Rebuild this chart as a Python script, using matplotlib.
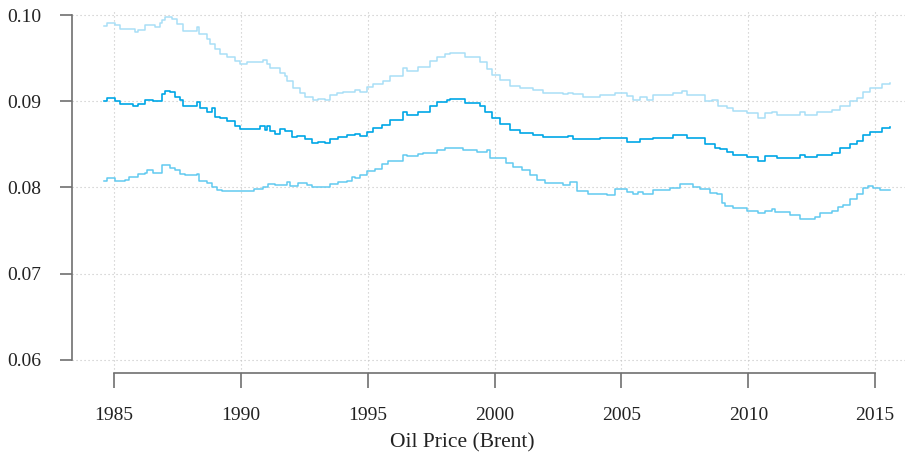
import matplotlib
matplotlib.use("Agg")
import matplotlib.pyplot as plt

# Posterior band (upper / median / lower) over time, piecewise constant
upper_years = [1984.60, 1984.72, 1985.04, 1985.24, 1985.83, 1985.95, 1986.22, 1986.62,
               1986.81, 1986.89, 1987.01, 1987.29, 1987.48, 1987.72, 1988.27, 1988.35,
               1988.67, 1988.78, 1988.98, 1989.18, 1989.45, 1989.77, 1989.97, 1990.24,
               1990.87, 1991.03, 1991.15, 1991.54, 1991.74, 1991.82, 1992.06, 1992.33,
               1992.53, 1992.84, 1993.04, 1993.32, 1993.51, 1993.79, 1994.03, 1994.50,
               1994.70, 1994.97, 1995.21, 1995.60, 1995.88, 1996.39, 1996.55, 1996.98,
               1997.46, 1997.73, 1998.05, 1998.24, 1998.84, 1999.43, 1999.70, 1999.90,
               2000.21, 2000.61, 2001.00, 2001.52, 2001.91, 2002.70, 2002.90, 2003.09,
               2003.49, 2004.16, 2004.75, 2005.22, 2005.46, 2005.73, 2006.01, 2006.25,
               2007.03, 2007.39, 2007.59, 2008.30, 2008.57, 2008.81, 2009.16, 2009.40,
               2009.95, 2010.38, 2010.66, 2010.94, 2011.13, 2012.04, 2012.24, 2012.71,
               2013.30, 2013.62, 2014.01, 2014.29, 2014.52, 2014.80, 2015.27, 2015.59]
upper_vals = [0.0987, 0.0991, 0.0988, 0.0984, 0.0980, 0.0983, 0.0988, 0.0986,
              0.0991, 0.0994, 0.0998, 0.0995, 0.0990, 0.0982, 0.0986, 0.0978,
              0.0972, 0.0966, 0.0960, 0.0955, 0.0951, 0.0947, 0.0943, 0.0946,
              0.0948, 0.0943, 0.0939, 0.0933, 0.0929, 0.0923, 0.0915, 0.0910,
              0.0905, 0.0902, 0.0903, 0.0902, 0.0907, 0.0909, 0.0911, 0.0913,
              0.0911, 0.0916, 0.0920, 0.0924, 0.0929, 0.0939, 0.0935, 0.0940,
              0.0947, 0.0951, 0.0955, 0.0956, 0.0951, 0.0945, 0.0937, 0.0931,
              0.0925, 0.0918, 0.0915, 0.0913, 0.0910, 0.0908, 0.0910, 0.0908,
              0.0905, 0.0907, 0.0909, 0.0906, 0.0902, 0.0905, 0.0902, 0.0907,
              0.0910, 0.0912, 0.0907, 0.0900, 0.0902, 0.0895, 0.0892, 0.0889,
              0.0886, 0.0881, 0.0886, 0.0887, 0.0884, 0.0888, 0.0884, 0.0888,
              0.0890, 0.0895, 0.0900, 0.0904, 0.0911, 0.0915, 0.0920, 0.0921]

middle_years = [1984.60, 1984.72, 1985.04, 1985.24, 1985.75, 1985.95, 1986.22, 1986.54,
                1986.89, 1987.01, 1987.21, 1987.40, 1987.60, 1987.72, 1988.27, 1988.39,
                1988.67, 1988.86, 1988.98, 1989.18, 1989.45, 1989.77, 1989.97, 1990.75,
                1990.95, 1991.03, 1991.15, 1991.35, 1991.54, 1991.74, 1992.02, 1992.21,
                1992.53, 1992.80, 1993.04, 1993.32, 1993.51, 1993.83, 1994.18, 1994.50,
                1994.70, 1994.97, 1995.21, 1995.56, 1995.88, 1996.39, 1996.55, 1996.98,
                1997.46, 1997.73, 1998.13, 1998.24, 1998.84, 1999.43, 1999.62, 1999.90,
                2000.21, 2000.61, 2001.00, 2001.52, 2001.91, 2002.90, 2003.09, 2004.16,
                2005.22, 2005.73, 2006.25, 2007.03, 2007.59, 2008.30, 2008.49, 2008.69,
                2008.89, 2009.16, 2009.40, 2009.95, 2010.38, 2010.66, 2011.13, 2012.04,
                2012.24, 2012.71, 2013.30, 2013.62, 2014.01, 2014.29, 2014.52, 2014.80,
                2015.27, 2015.59]
middle_vals = [0.0900, 0.0904, 0.0900, 0.0897, 0.0894, 0.0897, 0.0902, 0.0900,
               0.0908, 0.0912, 0.0911, 0.0905, 0.0902, 0.0895, 0.0899, 0.0892,
               0.0888, 0.0892, 0.0882, 0.0880, 0.0877, 0.0871, 0.0868, 0.0871,
               0.0867, 0.0871, 0.0866, 0.0862, 0.0868, 0.0865, 0.0858, 0.0860,
               0.0856, 0.0852, 0.0853, 0.0852, 0.0856, 0.0858, 0.0861, 0.0862,
               0.0860, 0.0864, 0.0869, 0.0873, 0.0878, 0.0887, 0.0884, 0.0888,
               0.0895, 0.0899, 0.0902, 0.0903, 0.0898, 0.0894, 0.0888, 0.0881,
               0.0874, 0.0867, 0.0863, 0.0861, 0.0858, 0.0860, 0.0856, 0.0857,
               0.0853, 0.0856, 0.0857, 0.0861, 0.0857, 0.0850, 0.0851, 0.0846,
               0.0845, 0.0841, 0.0838, 0.0835, 0.0831, 0.0836, 0.0834, 0.0838,
               0.0835, 0.0838, 0.0840, 0.0846, 0.0850, 0.0854, 0.0861, 0.0864,
               0.0869, 0.0870]

lower_years = [1984.60, 1984.72, 1985.04, 1985.45, 1985.60, 1985.95, 1986.22, 1986.30,
               1986.54, 1986.89, 1987.21, 1987.40, 1987.60, 1987.80, 1988.27, 1988.35,
               1988.67, 1988.86, 1989.06, 1989.26, 1990.50, 1990.87, 1991.07, 1991.35,
               1991.82, 1991.94, 1992.25, 1992.61, 1992.80, 1993.51, 1993.83, 1994.18,
               1994.38, 1994.50, 1994.70, 1994.97, 1995.29, 1995.56, 1995.80, 1996.39,
               1996.55, 1996.98, 1997.18, 1997.73, 1998.05, 1998.76, 1999.31, 1999.70,
               1999.82, 2000.45, 2000.73, 2001.08, 2001.40, 2001.67, 2001.99, 2002.70,
               2002.97, 2003.25, 2003.68, 2004.43, 2004.75, 2005.22, 2005.46, 2005.65,
               2005.85, 2006.25, 2006.90, 2007.31, 2007.82, 2008.10, 2008.49, 2008.77,
               2008.96, 2009.08, 2009.40, 2009.95, 2010.38, 2010.66, 2010.94, 2011.05,
               2011.65, 2012.04, 2012.36, 2012.63, 2012.83, 2013.30, 2013.54, 2013.73,
               2014.01, 2014.29, 2014.52, 2014.72, 2014.92, 2015.19, 2015.59]
lower_vals = [0.0808, 0.0811, 0.0807, 0.0809, 0.0812, 0.0816, 0.0817, 0.0820,
              0.0817, 0.0826, 0.0823, 0.0820, 0.0816, 0.0814, 0.0816, 0.0807,
              0.0805, 0.0801, 0.0797, 0.0796, 0.0798, 0.0801, 0.0804, 0.0803,
              0.0806, 0.0802, 0.0805, 0.0803, 0.0800, 0.0804, 0.0806, 0.0808,
              0.0812, 0.0811, 0.0814, 0.0819, 0.0822, 0.0827, 0.0831, 0.0838,
              0.0836, 0.0839, 0.0840, 0.0843, 0.0846, 0.0843, 0.0841, 0.0843,
              0.0834, 0.0828, 0.0824, 0.0820, 0.0814, 0.0809, 0.0805, 0.0803,
              0.0806, 0.0796, 0.0793, 0.0791, 0.0798, 0.0795, 0.0793, 0.0795,
              0.0792, 0.0797, 0.0799, 0.0804, 0.0800, 0.0798, 0.0794, 0.0793,
              0.0782, 0.0779, 0.0776, 0.0773, 0.0770, 0.0773, 0.0775, 0.0772,
              0.0768, 0.0763, 0.0764, 0.0766, 0.0771, 0.0773, 0.0777, 0.0780,
              0.0787, 0.0793, 0.0799, 0.0802, 0.0799, 0.0797, 0.0797]

x_ticks = [1985, 1990, 1995, 2000, 2005, 2010, 2015]
y_ticks = [0.06, 0.07, 0.08, 0.09, 0.10]
y_tick_labels = ["0.06", "0.07", "0.08", "0.09", "0.10"]
x_label = "Oil Price (Brent)"

plt.rcParams["font.family"] = ["Liberation Serif", "DejaVu Serif"]

W, H = 912, 457
fig = plt.figure(figsize=(W / 100, H / 100), dpi=100)
ax = fig.add_axes([72 / W, (H - 373) / H, (905 - 72) / W, (373 - 10) / H])

ax.set_xlim(1983.345, 2016.178)
ax.set_ylim(0.05849, 0.10058)

grid_kw = dict(color="#c4c4c4", linewidth=0.8, linestyle=(0, (1, 2.6)), zorder=0)
for x in x_ticks:
    ax.axvline(x, **grid_kw)
for y in y_ticks:
    ax.axhline(y, **grid_kw)

ax.step(upper_years, upper_vals, where="post", color="#a9dff6", linewidth=1.1, zorder=2)
ax.step(lower_years, lower_vals, where="post", color="#62caf0", linewidth=1.1, zorder=2)
ax.step(middle_years, middle_vals, where="post", color="#00a7e6", linewidth=1.2, zorder=3)

for side in ("top", "right"):
    ax.spines[side].set_visible(False)
spine_color = "#707070"
ax.spines["left"].set_bounds(0.06, 0.10)
ax.spines["bottom"].set_bounds(1985, 2015)
for side in ("left", "bottom"):
    ax.spines[side].set_color(spine_color)
    ax.spines[side].set_linewidth(1.2)

ax.set_xticks(x_ticks)
ax.set_xticklabels([str(v) for v in x_ticks])
ax.set_yticks(y_ticks)
ax.set_yticklabels(y_tick_labels)
ax.tick_params(axis="y", length=8.4, width=1.2, color=spine_color, pad=13.5,
               labelsize=14, labelcolor="#222222")
ax.tick_params(axis="x", length=10.8, width=1.2, color=spine_color, pad=14,
               labelsize=14, labelcolor="#222222")

fig.text(462.8 / W, 1 - 433 / H, x_label, ha="center", va="top",
         fontsize=15.5, color="#222222")

fig.savefig("out.png", dpi=100)
